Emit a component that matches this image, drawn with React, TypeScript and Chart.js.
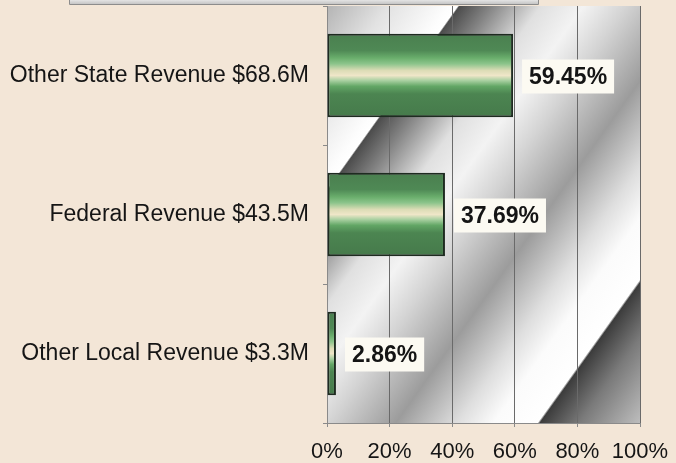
import React, { useEffect, useRef } from "react";
import { Chart, registerables } from "chart.js";

Chart.register(...registerables);

const categories = [
  "Other State Revenue $68.6M",
  "Federal Revenue $43.5M",
  "Other Local Revenue $3.3M",
];
const shares = [59.45, 37.69, 2.86];
const xTicks = [0, 20, 40, 60, 80, 100];

const FONT = "'Liberation Sans', Arial, Helvetica, sans-serif";

const barStops: [number, string][] = [
  [0, "#4a7f4f"],
  [0.2, "#4f8955"],
  [0.29, "#6aae6c"],
  [0.36, "#8cc48b"],
  [0.44, "#dcdcb6"],
  [0.5, "#efe6c8"],
  [0.56, "#a9d0a1"],
  [0.63, "#62a665"],
  [0.72, "#4c8551"],
  [1, "#467a4b"],
];

// background metallic stops along diagonal (u fraction)
const bgStops: [number, string][] = [
  [0, "#b4b4b4"],
  [0.1, "#e2e2e2"],
  [0.2, "#fdfdfd"],
  [0.214, "#ffffff"],
  [0.217, "#4c4c4c"],
  [0.27, "#858585"],
  [0.35, "#e0e0e0"],
  [0.42, "#f3f3f3"],
  [0.49, "#d4d4d4"],
  [0.6, "#9c9c9c"],
  [0.7, "#dedede"],
  [0.76, "#fbfbfb"],
  [0.832, "#ffffff"],
  [0.836, "#3c3c3c"],
  [0.9, "#7a7a7a"],
  [1, "#bdbdbd"],
];

const bgPlugin = {
  id: "metalBg",
  beforeDraw(chart: any) {
    const { ctx, chartArea } = chart;
    if (!chartArea) return;
    const { left, top, width, height } = chartArea;
    const k = 1.4;
    const umax = k * width + height;
    const t = umax / (k * k + 1);
    const g = ctx.createLinearGradient(left, top, left + k * t, top + t);
    bgStops.forEach(([p, c]) => g.addColorStop(p, c));
    ctx.save();
    ctx.fillStyle = g;
    ctx.fillRect(left, top, width, height);
    ctx.restore();
  },
  afterDraw(chart: any) {
    const { ctx } = chart;
    ctx.save();
    const g = ctx.createLinearGradient(0, 0, 0, 5);
    g.addColorStop(0, "#e4e4e4");
    g.addColorStop(1, "#bdbdbd");
    ctx.fillStyle = g;
    ctx.fillRect(69, 0, 470, 4);
    ctx.strokeStyle = "#8c8c8c";
    ctx.lineWidth = 1;
    ctx.beginPath();
    ctx.moveTo(69.5, 0);
    ctx.lineTo(69.5, 4.5);
    ctx.lineTo(538.5, 4.5);
    ctx.lineTo(538.5, 0);
    ctx.stroke();
    ctx.restore();
  },
};

const labelPlugin = {
  id: "valueLabels",
  afterDatasetsDraw(chart: any) {
    const { ctx } = chart;
    const meta = chart.getDatasetMeta(0);
    ctx.save();
    ctx.font = `bold 23px ${FONT}`;
    ctx.textBaseline = "middle";
    ctx.textAlign = "left";
    meta.data.forEach((el: any, i: number) => {
      const txt = shares[i].toFixed(2) + "%";
      const w = ctx.measureText(txt).width;
      const bx = el.x + 9;
      const bh = 34;
      const by = el.y - bh / 2 + 1;
      const pad = 7;
      ctx.fillStyle = "#fcfaf2";
      ctx.fillRect(bx, by, w + pad * 2, bh);
      ctx.fillStyle = "#141414";
      ctx.fillText(txt, bx + pad, el.y + 2);
    });
    ctx.restore();
  },
};

const zeroPad = (s: any) => {
  s.paddingLeft = 0;
  s.paddingRight = 0;
  s.paddingTop = 0;
  s.paddingBottom = 0;
};

export default function App() {
  const ref = useRef<HTMLCanvasElement | null>(null);
  useEffect(() => {
    if (!ref.current) return;
    const chart = new Chart(ref.current, {
      type: "bar",
      data: {
        labels: categories,
        datasets: [
          {
            data: shares,
            backgroundColor: (c: any) => {
              const ch = c.chart;
              const ys = ch.scales && ch.scales.y;
              if (!ys || !ch.chartArea || c.dataIndex === undefined) return "#4e8654";
              const yc = ys.getPixelForValue(c.dataIndex);
              const half = ((ch.chartArea.height / categories.length) * 0.6) / 2;
              const g = ch.ctx.createLinearGradient(0, yc - half, 0, yc + half);
              barStops.forEach(([p, col]) => g.addColorStop(p, col));
              return g;
            },
            borderColor: "#1e2b20",
            borderWidth: 2,
            borderSkipped: false,
            categoryPercentage: 1,
            barPercentage: 0.6,
          } as any,
        ],
      },
      options: {
        indexAxis: "y",
        responsive: false,
        animation: false,
        layout: { padding: { top: 6, right: 36, bottom: 0, left: 0 } },
        plugins: { legend: { display: false }, tooltip: { enabled: false } },
        scales: {
          x: {
            min: 0,
            max: 100,
            afterBuildTicks: (s: any) => {
              s.ticks = xTicks.map((v) => ({ value: v }));
            },
            ticks: {
              callback: (v: any) => v + "%",
              font: { family: FONT, size: 22 },
              color: "#151515",
              padding: 12,
              maxRotation: 0,
            },
            grid: { color: "#6a6a6a", tickLength: 4, tickColor: "#8a8a8a" },
            border: { color: "#8a8a8a" },
            afterFit: (s: any) => {
              s.height = 40;
              zeroPad(s);
            },
          },
          y: {
            ticks: {
              font: { family: FONT, size: 23 },
              color: "#151515",
              padding: 14,
            },
            grid: { drawOnChartArea: false, tickLength: 4, color: "#8a8a8a" },
            border: { color: "#8a8a8a" },
            afterFit: (s: any) => {
              s.width = 327;
              zeroPad(s);
            },
          },
        },
      } as any,
      plugins: [bgPlugin, labelPlugin],
    });
    return () => chart.destroy();
  }, []);
  return (
    <div
      style={{
        position: "fixed",
        left: 0,
        top: 0,
        width: 676,
        height: 463,
        background: "#f3e6d7",
      }}
    >
      <canvas ref={ref} width={676} height={463} />
    </div>
  );
}
